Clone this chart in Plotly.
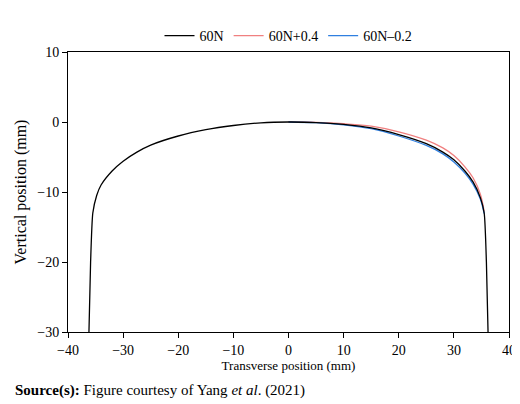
import plotly.graph_objects as go

x_60n = [-36.2, -35.9, -35.5, -34.8, -34, -32, -30, -27.5, -25, -20, -15, -10, -5, 0, 5, 10, 15, 20, 25, 28, 30, 32, 33.5, 34.8, 35.5, 35.9, 36.2]
y_60n = [-30, -20, -13, -10.5, -9, -7, -5.6, -4.3, -3.3, -2.0, -1.1, -0.5, -0.12, 0, -0.08, -0.35, -0.85, -1.8, -3.1, -4.3, -5.4, -7.0, -8.6, -10.8, -13, -20, -30]
x_p04 = [0, 5, 10, 15, 20, 25, 28, 30, 32, 33.5, 34.8, 35.5]
y_p04 = [0, -0.05, -0.25, -0.6, -1.4, -2.6, -3.7, -4.8, -6.4, -8.0, -10.3, -12.8]
x_m02 = [0, 5, 10, 15, 20, 25, 28, 30, 32, 33.5, 34.8, 35.5]
y_m02 = [0, -0.1, -0.4, -0.95, -2.0, -3.35, -4.55, -5.7, -7.3, -8.9, -11.0, -13.1]

fig = go.Figure()
fig.add_trace(go.Scatter(x=x_p04, y=y_p04, name="60N+0.4", mode="lines", line=dict(color="#f08080", width=1.3, shape="spline"), legendrank=2))
fig.add_trace(go.Scatter(x=x_m02, y=y_m02, name="60N\u20130.2", mode="lines", line=dict(color="#2f7fe0", width=1.3, shape="spline"), legendrank=3))
fig.add_trace(go.Scatter(x=x_60n, y=y_60n, name="60N", mode="lines", line=dict(color="black", width=1.3, shape="spline", smoothing=0.6), legendrank=1))

fam = "Liberation Serif"
font = dict(family=fam, size=14, color="black")
ax = dict(showgrid=False, zeroline=False, showline=True, linecolor="black", mirror=True, ticks="outside", ticklen=5, tickcolor="black", tickfont=font)
fig.update_layout(
    width=520, height=404, margin=dict(l=57, r=16, t=28, b=80),
    plot_bgcolor="white", paper_bgcolor="white", font=font,
    xaxis=dict(range=[-40, 40], dtick=10, title=dict(text="Transverse position (mm)", font=dict(family=fam, size=13, color="black"), standoff=2), **ax),
    yaxis=dict(range=[-30, 10], dtick=10, title=dict(text="Vertical position (mm)", font=dict(family=fam, size=16, color="black"), standoff=6), **ax),
    legend=dict(orientation="h", x=0.5, xanchor="center", y=1.0, yanchor="bottom", font=font, bgcolor="rgba(0,0,0,0)"),
    showlegend=True,
)
fig.add_annotation(xref="paper", yref="paper", x=-0.125, y=-0.17, xanchor="left", yanchor="top", showarrow=False,
                   text="<b>Source(s):</b> Figure courtesy of Yang <i>et al</i>. (2021)", font=dict(family=fam, size=15, color="black"))
fig.write_html("out.html")
